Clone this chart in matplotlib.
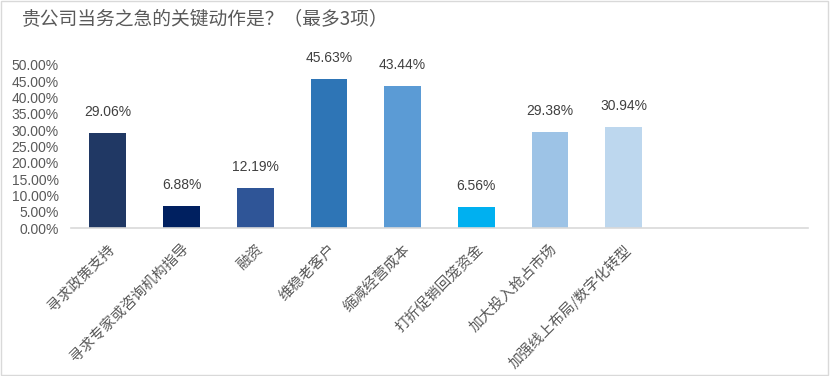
import matplotlib.pyplot as plt
from matplotlib.patches import Rectangle

# --- data ---
categories = ["寻求政策支持", "寻求专家或咨询机构指导", "融资", "维稳老客户", "缩减经营成本",
              "打折促销回笼资金", "加大投入抢占市场", "加强线上布局/数字化转型", "", ""]
values = [29.06, 6.88, 12.19, 45.63, 43.44, 6.56, 29.38, 30.94, None, None]
colors = ["#203864", "#002060", "#2F5597", "#2E75B6", "#5B9BD5",
          "#00B0F0", "#9DC3E6", "#BDD7EE"]
yticks = [0, 5, 10, 15, 20, 25, 30, 35, 40, 45, 50]
title = "贵公司当务之急的关键动作是？（最多3项）"

cjk = ["Noto Sans CJK SC", "DejaVu Sans"]
num = ["Liberation Sans Narrow", "Liberation Sans", "DejaVu Sans"]
grey = "#595959"

fig = plt.figure(figsize=(8.3, 3.76), dpi=100)
ax = fig.add_axes([71 / 830, 1 - 228 / 376, 737 / 830, 163 / 376])

x = list(range(len(categories)))
for i, v in enumerate(values):
    if v is None:
        continue
    ax.bar(i, v, width=0.5, color=colors[i])
    ax.annotate(f"{v:.2f}%", (i, v), xytext=(0, 10), textcoords="offset points",
                ha="center", va="bottom", fontsize=10, color="#404040", family=num)

ax.set_xlim(-0.5, len(categories) - 0.5)
ax.set_ylim(0, 50)
ax.set_yticks(yticks)
ax.set_yticklabels([f"{t:.2f}%" for t in yticks], family=num, fontsize=10, color=grey)
ax.set_xticks(x)
ax.set_xticklabels(categories, rotation=45, ha="right", rotation_mode="anchor",
                   family=cjk, fontsize=10.5, color=grey)
ax.tick_params(axis="both", length=0)
ax.tick_params(axis="x", pad=10)
ax.tick_params(axis="y", pad=9)
for s in ["top", "right", "left"]:
    ax.spines[s].set_visible(False)
ax.spines["bottom"].set_color("#D9D9D9")
ax.spines["bottom"].set_linewidth(1.2)

fig.text(22 / 830, 1 - 20 / 376, title, family=cjk, fontsize=13.5, color=grey,
         ha="left", va="center")

# light border round the chart
fig.patches.append(Rectangle((0.001, 0.002), 0.997, 0.995, transform=fig.transFigure,
                             fill=False, edgecolor="#D9D9D9", linewidth=1))

fig.savefig("out.png", dpi=100)
